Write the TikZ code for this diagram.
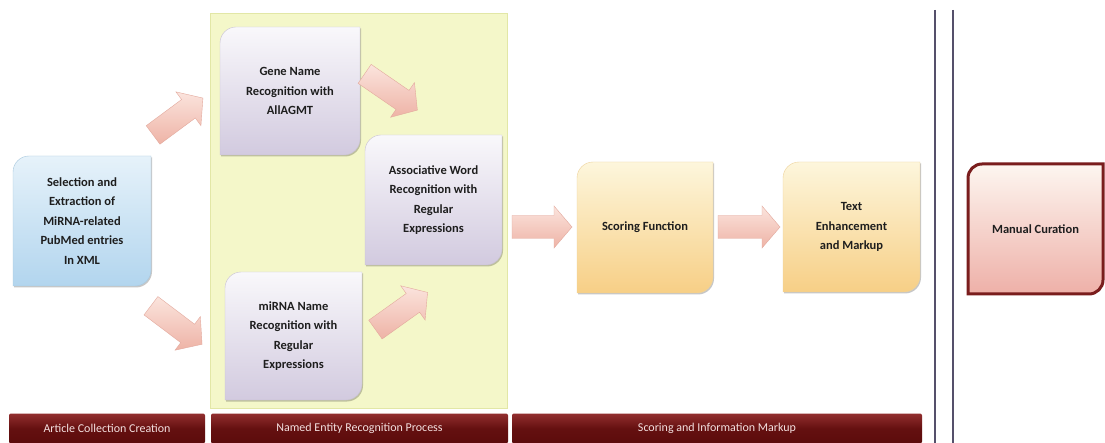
\documentclass[tikz,border=0pt]{standalone}
\usepackage{fontspec}
\setmainfont{Carlito}
\usetikzlibrary{shadows}

\definecolor{grayT}{HTML}{F9F8FB}
\definecolor{grayB}{HTML}{D2CADF}
\definecolor{grayE}{HTML}{C8C2D2}
\definecolor{blueT}{HTML}{E6F2FA}
\definecolor{blueB}{HTML}{B2D5EE}
\definecolor{blueE}{HTML}{A8C8DE}
\definecolor{yelT}{HTML}{FDF6DC}
\definecolor{yelB}{HTML}{F7CF86}
\definecolor{yelE}{HTML}{EED39C}
\definecolor{redT}{HTML}{FDF6F0}
\definecolor{redB}{HTML}{EEB0A8}
\definecolor{redE}{HTML}{7A1D1D}
\definecolor{panelC}{HTML}{F4F7C9}
\definecolor{panelE}{HTML}{E2E7A6}
\definecolor{arrT}{HTML}{FBE4DD}
\definecolor{arrB}{HTML}{EEB3A6}
\definecolor{arrE}{HTML}{E3A99D}
\definecolor{barT}{HTML}{922E2E}
\definecolor{barB}{HTML}{5C0B0B}
\definecolor{barText}{HTML}{F4E0E0}
\definecolor{vlineC}{HTML}{55506B}
\definecolor{txtC}{HTML}{1E1E1E}

\tikzset{
  boxtext/.style={font=\bfseries\fontsize{12.5}{19.5}\selectfont, align=center, text=txtC, inner sep=0pt},
  softshadow/.style={drop shadow={shadow xshift=1pt, shadow yshift=-1.5pt, opacity=0.22, fill=black}},
  grayfill/.style={top color=grayT, bottom color=grayB, draw=grayE, line width=0.4pt, softshadow},
  bluefill/.style={top color=blueT, bottom color=blueB, draw=blueE, line width=0.4pt, softshadow},
  yelfill/.style={top color=yelT, bottom color=yelB, draw=yelE, line width=0.4pt, softshadow},
  redfill/.style={top color=redT, bottom color=redB, draw=redE, line width=3pt},
  arrowfill/.style={top color=arrT, bottom color=arrB, draw=arrE, line width=0.4pt},
  barbox/.style={top color=barT, bottom color=barB, middle color=barB!85!barT, draw=none,
     rounded corners=2pt, text=barText, font=\fontsize{12}{13}\selectfont, inner sep=0pt, minimum height=30pt},
  vline/.style={draw=vlineC, line width=1.6pt}
}

% name, x1, y1, x2, y2, radius, style, text
\newcommand\dbox[8]{%
  \path[#7] ({#2},{#3+#6}) .. controls ({#2},{#3+0.45*#6}) and ({#2+0.45*#6},{#3}) .. ({#2+#6},{#3})
     -- ({#4},{#3}) -- ({#4},{#5-#6})
     .. controls ({#4},{#5-0.45*#6}) and ({#4-0.45*#6},{#5}) .. ({#4-#6},{#5})
     -- ({#2},{#5}) -- cycle;
  \node[boxtext, minimum width={(#4-#2)*1pt}, minimum height={(#5-#3)*1pt}] (#1) at ({(#2+#4)/2},{(#3+#5)/2}) {#8};%
}

% block arrow: name, cx, cy, angle, length
\newcommand\barrow[5]{%
  \begin{scope}[shift={(#2,#3)}, rotate=#4]
    \path[arrowfill] ({-#5/2},-11.5) -- ({#5/2-18},-11.5) -- ({#5/2-18},-21) -- ({#5/2},0)
      -- ({#5/2-18},21) -- ({#5/2-18},11.5) -- ({-#5/2},11.5) -- cycle;
    \coordinate (#1) at (0,0);
  \end{scope}%
}

\begin{document}
\begin{tikzpicture}[x=1pt,y=-1pt]
\useasboundingbox[fill=white] (0,0) rectangle (1105,443);

% NER panel
\path[fill=panelC, draw=panelE, line width=0.8pt] (210,13) rectangle (507,408);

% vertical separator lines
\draw[vline] (935,10) -- (935,443);
\draw[vline] (953,10) -- (953,443);

% boxes
\dbox{sel}{13}{156}{151}{286}{16}{bluefill}{Selection and\\Extraction of\\MiRNA-related\\PubMed entries\\In XML}
\dbox{gene}{220}{27}{360}{155}{16}{grayfill}{Gene Name\\Recognition with\\AllAGMT}
\dbox{mirna}{225}{272}{362}{400}{16}{grayfill}{miRNA Name\\Recognition with\\Regular\\Expressions}
\dbox{assoc}{365}{135}{502}{265}{16}{grayfill}{Associative Word\\Recognition with\\Regular\\Expressions}
\dbox{score}{577}{162}{713}{293}{16}{yelfill}{Scoring Function}
\dbox{enh}{783}{162}{920}{292}{16}{yelfill}{Text\\Enhancement\\and Markup}
\dbox{manual}{968}{164}{1103}{294}{14}{redfill}{Manual Curation}

% block arrows
\barrow{a1}{178}{116.5}{36.5}{62}
\barrow{a2}{176.5}{325}{-37}{64}
\barrow{a3}{391}{92}{-34.5}{64}
\barrow{a4}{401.5}{311}{35.5}{64}
\barrow{a5}{542}{227}{0}{60}
\barrow{a6}{749}{227}{0}{62}

% bottom bars
\node[barbox, minimum width=196pt] (b1) at (107,428.5) {Article Collection Creation};
\node[barbox, minimum width=297pt] (b2) at (359.5,428.5) {Named Entity Recognition Process};
\node[barbox, minimum width=410pt] (b3) at (717,428.5) {Scoring and Information Markup};
\end{tikzpicture}
\end{document}
